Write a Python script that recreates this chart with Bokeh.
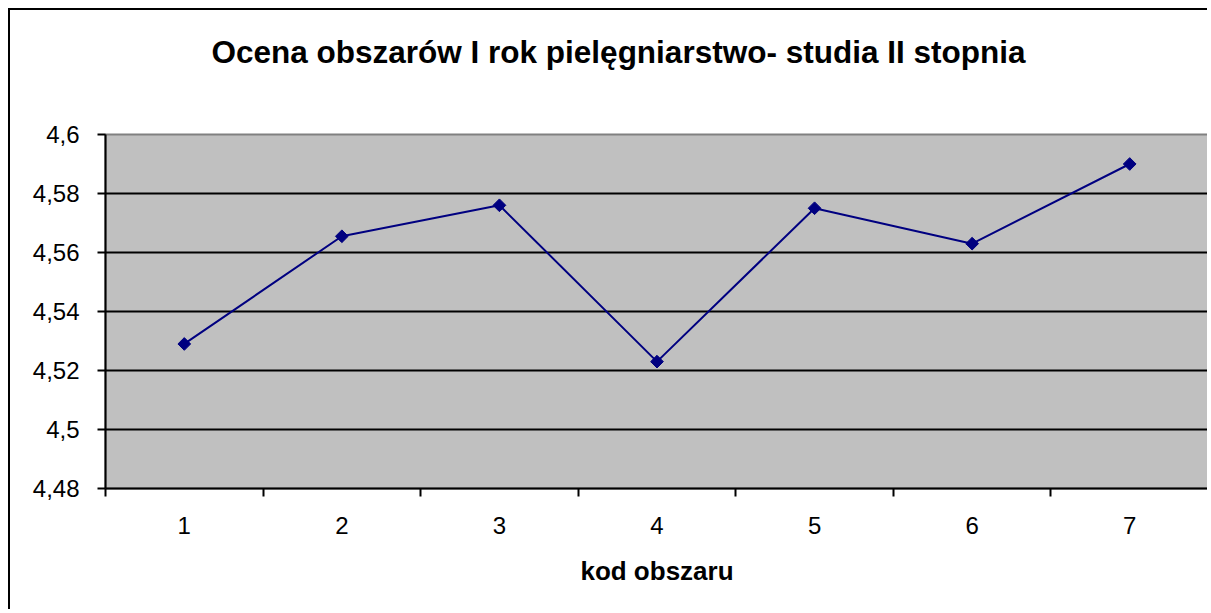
from bokeh.plotting import figure
from bokeh.models import FixedTicker, Range1d, Title
from bokeh.embed import file_html
from bokeh.resources import INLINE
import numpy as np

# data
categories = [1, 2, 3, 4, 5, 6, 7]
values = [4.529, 4.5655, 4.576, 4.523, 4.575, 4.563, 4.590]
y_ticks = [4.48, 4.50, 4.52, 4.54, 4.56, 4.58, 4.60]
y_tick_labels = ["4,48", "4,5", "4,52", "4,54", "4,56", "4,58", "4,6"]
x_tick_labels = ["1", "2", "3", "4", "5", "6", "7"]
title_text = "Ocena obszarów I rok pielęgniarstwo- studia II stopnia"
x_title = "kod obszaru"

FONT = "Liberation Sans"

x_range = Range1d(0.5, 7.5)
y_range = Range1d(4.48, 4.60)

p = figure(width=1199, height=601, output_backend="svg", toolbar_location=None,
           x_range=x_range, y_range=y_range,
           min_border_left=95, min_border_right=1, min_border_top=124, min_border_bottom=123)
p.styles = {"margin-left": "8px", "margin-top": "8px",
            "border-top": "2px solid black", "border-left": "2px solid black"}

# blank spacer between the frame and the title
spacer = Title(text=" ", text_font_size="1px", standoff=57)
p.add_layout(spacer, "above")

p.title.text = title_text
p.title.text_font = FONT
p.title.text_font_size = "31.5px"
p.title.text_font_style = "bold"
p.title.text_color = "black"
p.title.align = "left"
p.title.vertical_align = "bottom"
p.title.offset = 106
p.title.standoff = 10

p.background_fill_color = "#C0C0C0"
p.border_fill_color = "white"
p.outline_line_color = "#808080"
p.outline_line_width = 2

# y axis
p.yaxis.ticker = FixedTicker(ticks=y_ticks)
p.yaxis.major_label_overrides = {t: l for t, l in zip(y_ticks, y_tick_labels)}
p.yaxis.major_tick_in = 0
p.yaxis.major_tick_out = 8
p.yaxis.minor_tick_line_color = None
p.yaxis.major_label_standoff = 18
p.yaxis.major_label_text_font = FONT
p.yaxis.major_label_text_font_size = "24px"
p.yaxis.major_label_text_color = "black"
p.yaxis.axis_line_width = 2
p.yaxis.major_tick_line_width = 2
p.yaxis.axis_line_color = "black"

# x axis
p.xaxis.ticker = FixedTicker(ticks=categories, minor_ticks=[c - 0.5 for c in categories] + [categories[-1] + 0.5])
p.xaxis.major_label_overrides = {c: l for c, l in zip(categories, x_tick_labels)}
p.xaxis.major_tick_in = 0
p.xaxis.major_tick_out = 0
p.xaxis.minor_tick_in = 0
p.xaxis.minor_tick_out = 8
p.xaxis.minor_tick_line_width = 2
p.xaxis.minor_tick_line_color = "black"
p.xaxis.major_label_standoff = 20
p.xaxis.major_label_text_font = FONT
p.xaxis.major_label_text_font_size = "24px"
p.xaxis.major_label_text_color = "black"
p.xaxis.axis_line_width = 2
p.xaxis.axis_line_color = "black"
p.xaxis.axis_label = x_title
p.xaxis.axis_label_text_font = FONT
p.xaxis.axis_label_text_font_size = "26px"
p.xaxis.axis_label_text_font_style = "bold"
p.xaxis.axis_label_text_color = "black"
p.xaxis.axis_label_standoff = 19

p.xgrid.grid_line_color = None
p.ygrid.ticker = FixedTicker(ticks=y_ticks[1:-1])
p.ygrid.grid_line_color = "black"
p.ygrid.grid_line_width = 2

p.line(categories, values, line_color="#000080", line_width=2)
p.scatter(categories, values, marker="square", size=9, angle=np.pi / 4,
          fill_color="#000080", line_color="#000080", line_width=1)

open("out.html", "w").write(file_html(p, INLINE))
